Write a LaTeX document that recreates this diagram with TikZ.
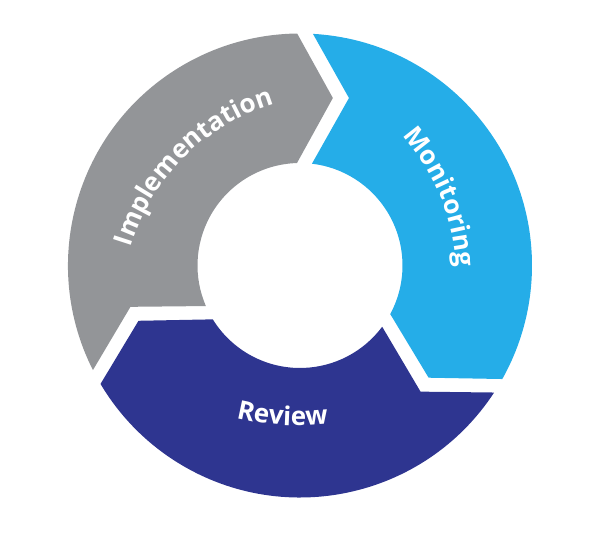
\documentclass[tikz,border=0pt]{standalone}
\usepackage{fontspec}
\setmainfont{Open Sans}
\usetikzlibrary{decorations.text}

\definecolor{implgray}{HTML}{939598}
\definecolor{monitorblue}{HTML}{25ADE8}
\definecolor{reviewblue}{HTML}{2E3590}

\begin{document}
\begin{tikzpicture}[x=1pt, y=1pt,
    segtext/.style={decorate, decoration={text along path, text align=center,
        text={|\fontsize{26}{26}\selectfont\bfseries\color{white}|#1}}}]
    % Fix the page size (centre of the ring at the origin)
    \useasboundingbox (-300,-277.5) rectangle (300,265.5);

    % Monitoring: from the notch at the top to the tip at the lower right
    \fill[monitorblue] (86.8:232) arc[start angle=86.8, end angle=-29.3, radius=232]
        -- (-41.1:170.7) -- (-28.3:102.5)
        arc[start angle=-28.3, end angle=83.3, radius=102.5]
        -- (73.7:174.5) -- cycle;

    % Review: same arrow turned by -120 degrees
    \fill[reviewblue, rotate=-120] (86.8:232) arc[start angle=86.8, end angle=-29.3, radius=232]
        -- (-41.1:170.7) -- (-28.3:102.5)
        arc[start angle=-28.3, end angle=83.3, radius=102.5]
        -- (73.7:174.5) -- cycle;

    % Implementation: same arrow turned by 120 degrees
    \fill[implgray, rotate=120] (86.8:232) arc[start angle=86.8, end angle=-29.3, radius=232]
        -- (-41.1:170.7) -- (-28.3:102.5)
        arc[start angle=-28.3, end angle=83.3, radius=102.5]
        -- (73.7:174.5) -- cycle;

    % Labels set along flat arcs
    \path[segtext=Implementation] (36.5,-44) ++(170:215) arc[start angle=170, end angle=100, radius=215];
    \path[segtext=Monitoring] (-58.5,-12.6) ++(57.2:215) arc[start angle=57.2, end angle=-12.8, radius=215];
    \path[segtext=Review] (-2.1,100) ++(-113.5:260) arc[start angle=-113.5, end angle=-73.5, radius=260];
\end{tikzpicture}
\end{document}
